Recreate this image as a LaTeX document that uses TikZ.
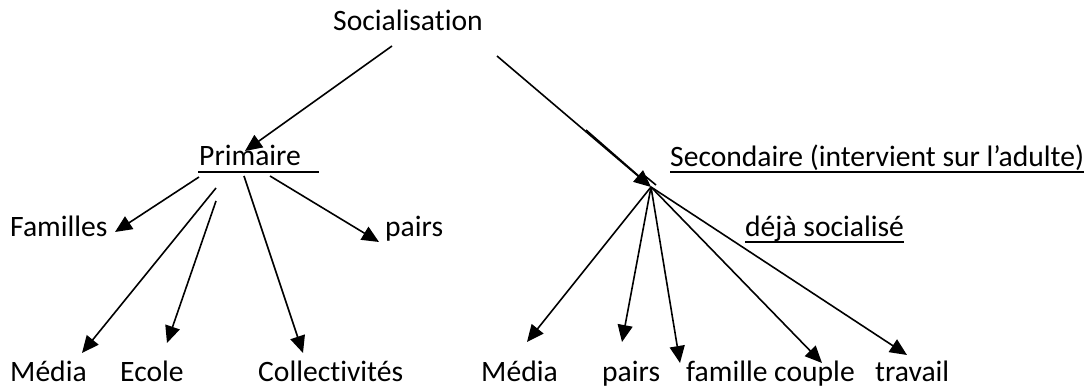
\documentclass[tikz,border=0pt]{standalone}
\usepackage{fontspec}
\setmainfont[Ligatures=NoCommon]{Carlito}
\usetikzlibrary{arrows.meta}
\begin{document}
\begin{tikzpicture}[x=1pt,y=-1pt,
  lbl/.style={anchor=base west,inner sep=0pt,font=\fontsize{29.6}{34}\selectfont},
  conn/.style={line width=1.6pt,-{Triangle[length=17pt,width=15pt]}},
  plain/.style={line width=1.6pt},
  uline/.style={line width=1.8pt}]
\useasboundingbox (0,0) rectangle (1090,390);
% labels
\node[lbl] (soc) at (333,31) {Socialisation};
\node[lbl] (prim) at (199,166) {Primaire};
\node[lbl] (sec) at (670,167) {Secondaire (intervient sur l’adulte)};
\node[lbl] (deja) at (745,237) {déjà socialisé};
\node[lbl] (fam) at (10,237) {Familles};
\node[lbl] (pairsA) at (385,237) {pairs};
\node[lbl] (mediaA) at (10,381) {Média};
\node[lbl] (ecole) at (120,381) {Ecole};
\node[lbl] (coll) at (258,381) {Collectivités};
\node[lbl] (mediaB) at (481,381) {Média};
\node[lbl] (pairsB) at (602,381) {pairs};
\node[lbl] (famc) at (686,381) {famille couple};
\node[lbl] (trav) at (875,381) {travail};
% underlines
\draw[uline] (198,172) -- (319,172);
\draw[uline] ([yshift=-5pt]sec.base west) -- ([yshift=-5pt]sec.base east);
\draw[uline] ([yshift=-5pt]deja.base west) -- ([yshift=-5pt]deja.base east);
% coordinates
\coordinate (s1) at (392,46);
\coordinate (s2) at (497,56);
\coordinate (pt) at (245,151);
\coordinate (st) at (651,187);
\coordinate (st2) at (587,132);
\coordinate (p1) at (199,177);
\coordinate (p2) at (216,188);
\coordinate (p3) at (216,201);
\coordinate (p4) at (244,176);
\coordinate (p5) at (270,176);
\coordinate (tFam) at (115,232);
\coordinate (tMedA) at (82,353);
\coordinate (tEco) at (167,343);
\coordinate (tColl) at (303,353);
\coordinate (tPairsA) at (379,242);
\coordinate (tMedB) at (527,342);
\coordinate (tPairsB) at (622,342);
\coordinate (tFam2) at (680,363);
\coordinate (tCoup) at (822,363);
\coordinate (tTrav) at (907,355);
% connectors
\draw[conn] (s1) -- (pt);
\draw[conn] (s2) -- (st);
\draw[plain] ([xshift=-1pt,yshift=2pt]st2) -- ([xshift=-2pt,yshift=2pt]st);
\draw[plain] (645,176) -- (656,185);
\draw[conn] (p1) -- (tFam);
\draw[conn] (p2) -- (tMedA);
\draw[conn] (p3) -- (tEco);
\draw[conn] (p4) -- (tColl);
\draw[conn] (p5) -- (tPairsA);
\draw[conn] (st) -- (tMedB);
\draw[conn] (st) -- (tPairsB);
\draw[conn] (st) -- (tFam2);
\draw[conn] (st) -- (tCoup);
\draw[conn] (st) -- (tTrav);
\end{tikzpicture}
\end{document}
